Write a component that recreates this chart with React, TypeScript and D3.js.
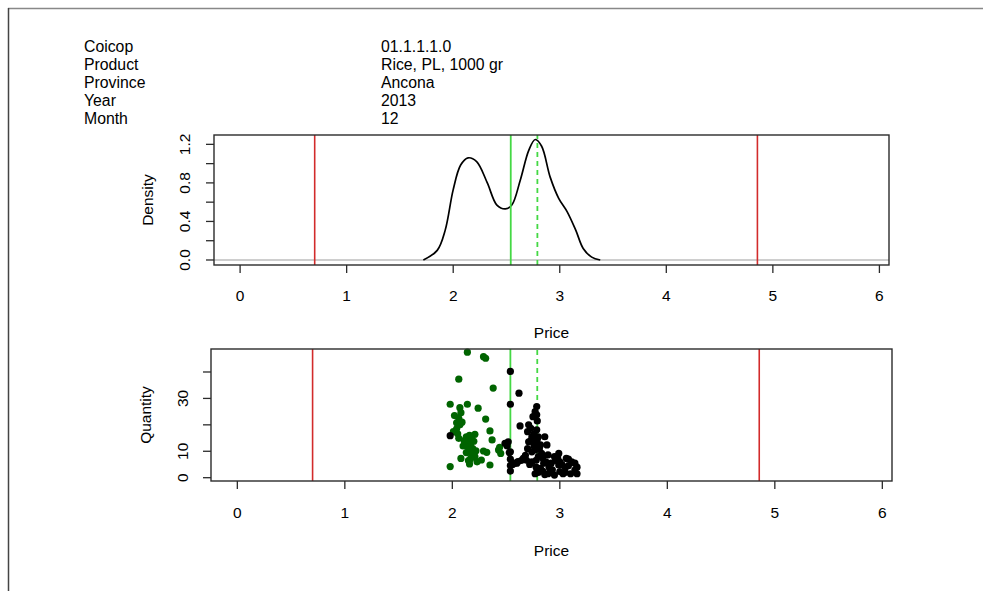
import React from "react";
import { scaleLinear, line, curveCatmullRom } from "d3";

// header block
const infoLabels = ["Coicop", "Product", "Province", "Year", "Month"];
const infoValues = ["01.1.1.1.0", "Rice, PL, 1000 gr", "Ancona", "2013", "12"];

// reference lines (price)
const redLines = [0.7, 4.855];
const medianLine = 2.54;
const modeLine = 2.79;

const priceTicks = [0, 1, 2, 3, 4, 5, 6];
const densityTicks = [0, 0.2, 0.4, 0.6, 0.8, 1.0, 1.2];
const densityLabels = [0, 0.4, 0.8, 1.2];
const qtyTicks = [0, 10, 20, 30, 40];
const qtyLabels = [0, 10, 30];

// density curve: [price, density]
const densityCurve = [
  [1.72, 0.0], [1.85, 0.1], [1.925, 0.31], [2.0, 0.73], [2.07, 0.985],
  [2.14, 1.06], [2.22, 1.02], [2.32, 0.8], [2.41, 0.57], [2.49, 0.53],
  [2.55, 0.57], [2.63, 0.83], [2.71, 1.14], [2.77, 1.25], [2.83, 1.18],
  [2.91, 0.86], [2.99, 0.64], [3.07, 0.5], [3.15, 0.31], [3.22, 0.12],
  [3.3, 0.03], [3.38, 0.0],
];

// scatter: [price, quantity]
const greenPoints = [
  [2.14, 47.5], [2.29, 45.8], [2.31, 45.2], [2.06, 37.3], [2.38, 33.9], [1.98, 27.8],
  [2.14, 27.8], [2.07, 26.5], [2.24, 26.3], [2.08, 24.6], [2.06, 22.5], [2.31, 22.2],
  [2.04, 20.8], [2.07, 20.0], [2.35, 17.7], [2.01, 17.4], [2.05, 16.6], [2.21, 16.4],
  [2.06, 14.9], [2.37, 14.3], [2.13, 15.5], [2.16, 16.0], [2.18, 14.5], [2.15, 13.5],
  [2.12, 13.0], [2.17, 12.5], [2.2, 13.8], [2.14, 11.8], [2.19, 11.0], [2.16, 10.5],
  [2.22, 10.2], [2.13, 9.5], [2.18, 8.8], [2.21, 8.0], [2.17, 7.2], [2.15, 6.5],
  [2.29, 10.1], [2.32, 9.6], [2.43, 10.5], [2.45, 9.2], [2.44, 11.5], [2.08, 7.3],
  [2.27, 6.7], [2.35, 4.8], [1.98, 4.2], [2.16, 5.2], [2.23, 6.0], [2.1, 12.0],
  [2.11, 14.0], [2.04, 18.5], [2.09, 21.0], [2.02, 23.5],
];
const blackPoints = [
  [1.98, 15.9], [2.54, 40.2], [2.62, 32.0], [2.54, 27.8], [2.49, 13.0], [2.51, 12.0],
  [2.53, 9.5], [2.54, 7.0], [2.54, 4.6], [2.54, 2.5], [2.52, 13.6], [2.54, 9.8],
  [2.785, 26.9], [2.77, 25.0], [2.785, 23.8], [2.75, 23.1], [2.79, 21.5], [2.63, 19.6],
  [2.71, 20.0], [2.73, 18.7], [2.7, 17.4], [2.785, 18.1], [2.74, 15.5], [2.8, 15.5],
  [2.86, 15.5], [2.71, 13.6], [2.78, 12.7], [2.82, 12.4], [2.88, 12.4], [2.74, 9.8],
  [2.83, 9.2], [2.89, 8.6], [2.99, 9.2], [3.06, 7.3], [3.08, 7.0], [3.14, 5.5],
  [3.14, 2.9], [2.66, 7.3], [2.61, 6.1], [2.58, 5.5], [2.69, 6.6], [2.74, 6.0],
  [2.78, 6.6], [2.85, 5.5], [2.92, 5.5], [2.99, 4.8], [3.0, 2.3], [3.05, 3.9],
  [3.05, 2.0], [2.91, 2.3], [2.95, 1.0], [2.8, 2.0], [2.78, 4.0], [2.8, 8.0],
  [2.77, 10.5], [2.76, 12.0], [2.79, 14.5], [2.81, 11.0], [2.84, 7.5], [2.87, 6.0],
  [2.9, 4.0], [2.93, 3.0], [2.96, 6.5], [2.98, 7.5], [3.0, 6.0], [3.02, 5.0],
  [3.03, 1.5], [3.08, 4.5], [3.1, 1.5], [3.11, 6.0], [3.16, 4.0], [3.16, 1.5],
  [2.95, 8.0], [2.89, 1.5], [2.84, 2.5], [2.56, 5.0], [2.6, 5.5], [2.64, 6.5],
  [2.68, 8.5], [2.7, 11.0], [2.73, 14.0], [2.76, 16.5], [2.77, 1.5], [2.79, 3.0],
  [2.72, 5.0], [2.82, 3.5], [2.86, 1.2],
];

const font = "'Liberation Sans', Arial, sans-serif";
const RED = "#d22b2b";
const GREEN = "#44d844";
const AXIS = "#2b2b2b";
const FS = 15.5;

const XAxis = ({ x, y0, labelY, titleY }) => (
  <g>
    {priceTicks.map((t) => (
      <g key={t}>
        <line x1={x(t)} x2={x(t)} y1={y0} y2={y0 + 8} stroke={AXIS} strokeWidth={1.3} />
        <text x={x(t)} y={labelY} textAnchor="middle" fontSize={FS}>{t}</text>
      </g>
    ))}
    <text x={(x.range()[0] + x.range()[1]) / 2} y={titleY} textAnchor="middle" fontSize={FS}>
      Price
    </text>
  </g>
);

const YAxis = ({ y, x0, ticks, labels, fmt, labelX, title, titleX }) => (
  <g>
    {ticks.map((t) => (
      <line key={t} x1={x0 - 8} x2={x0} y1={y(t)} y2={y(t)} stroke={AXIS} strokeWidth={1.3} />
    ))}
    {labels.map((t) => (
      <text key={t} transform={`translate(${labelX},${y(t)}) rotate(-90)`} textAnchor="middle"
        dy="0.35em" fontSize={FS}>{fmt(t)}</text>
    ))}
    <text transform={`translate(${titleX},${(y.range()[0] + y.range()[1]) / 2}) rotate(-90)`}
      textAnchor="middle" dy="0.35em" fontSize={FS}>{title}</text>
  </g>
);

const App = () => {
  // top panel: density
  const xTop = scaleLinear().domain([-0.245, 6.09]).range([214, 889]);
  const yTop = scaleLinear().domain([-0.052, 1.297]).range([265, 135]);
  // bottom panel: quantity
  const xBot = scaleLinear().domain([-0.245, 6.09]).range([211, 892]);
  const yBot = scaleLinear().domain([-1.25, 48.7]).range([481, 349]);

  const densityPath = line()
    .x((d) => xTop(d[0]))
    .y((d) => yTop(d[1]))
    .curve(curveCatmullRom)(densityCurve);

  const vLines = (x, y) => {
    const [b, t] = y.range();
    return (
      <g>
        {redLines.map((v) => (
          <line key={v} x1={x(v)} x2={x(v)} y1={b} y2={t} stroke={RED} strokeWidth={1.6} />
        ))}
        <line x1={x(medianLine)} x2={x(medianLine)} y1={b} y2={t} stroke={GREEN} strokeWidth={1.8} />
        <line x1={x(modeLine)} x2={x(modeLine)} y1={b} y2={t} stroke={GREEN} strokeWidth={1.8}
          strokeDasharray="5,4" />
      </g>
    );
  };

  return (
    <svg width={983} height={591} style={{ position: "absolute", left: 0, top: 0, background: "#fff" }}
      fontFamily={font} fill="#000">
      {/* frame */}
      <line x1={8} x2={983} y1={8.5} y2={8.5} stroke="#888" strokeWidth={1.5} />
      <line x1={8.5} x2={8.5} y1={8} y2={591} stroke="#444" strokeWidth={1.5} />

      {infoLabels.map((l, i) => (
        <g key={l} fontSize={15.8}>
          <text x={84} y={52 + i * 18}>{l}</text>
          <text x={381} y={52 + i * 18}>{infoValues[i]}</text>
        </g>
      ))}

      {/* density panel */}
      <line x1={214} x2={889} y1={yTop(0)} y2={yTop(0)} stroke="#bebebe" strokeWidth={1.3} />
      <path d={densityPath} fill="none" stroke="#000" strokeWidth={1.7} />
      {vLines(xTop, yTop)}
      <rect x={214} y={135} width={889 - 214} height={265 - 135} fill="none" stroke={AXIS} strokeWidth={1.4} />
      <XAxis x={xTop} y0={265} labelY={301} titleY={338} />
      <YAxis y={yTop} x0={214} ticks={densityTicks} labels={densityLabels}
        fmt={(v) => v.toFixed(1)} labelX={185} title="Density" titleX={148} />

      {/* quantity panel */}
      {vLines(xBot, yBot)}
      {greenPoints.map((d, i) => (
        <circle key={"g" + i} cx={xBot(d[0])} cy={yBot(d[1])} r={3.6} fill="#006400" />
      ))}
      {blackPoints.map((d, i) => (
        <circle key={"b" + i} cx={xBot(d[0])} cy={yBot(d[1])} r={3.6} fill="#000" />
      ))}
      <rect x={211} y={349} width={892 - 211} height={481 - 349} fill="none" stroke={AXIS} strokeWidth={1.4} />
      <XAxis x={xBot} y0={481} labelY={518} titleY={556} />
      <YAxis y={yBot} x0={211} ticks={qtyTicks} labels={qtyLabels}
        fmt={(v) => String(v)} labelX={183} title="Quantity" titleX={146} />
    </svg>
  );
};

export default App;
